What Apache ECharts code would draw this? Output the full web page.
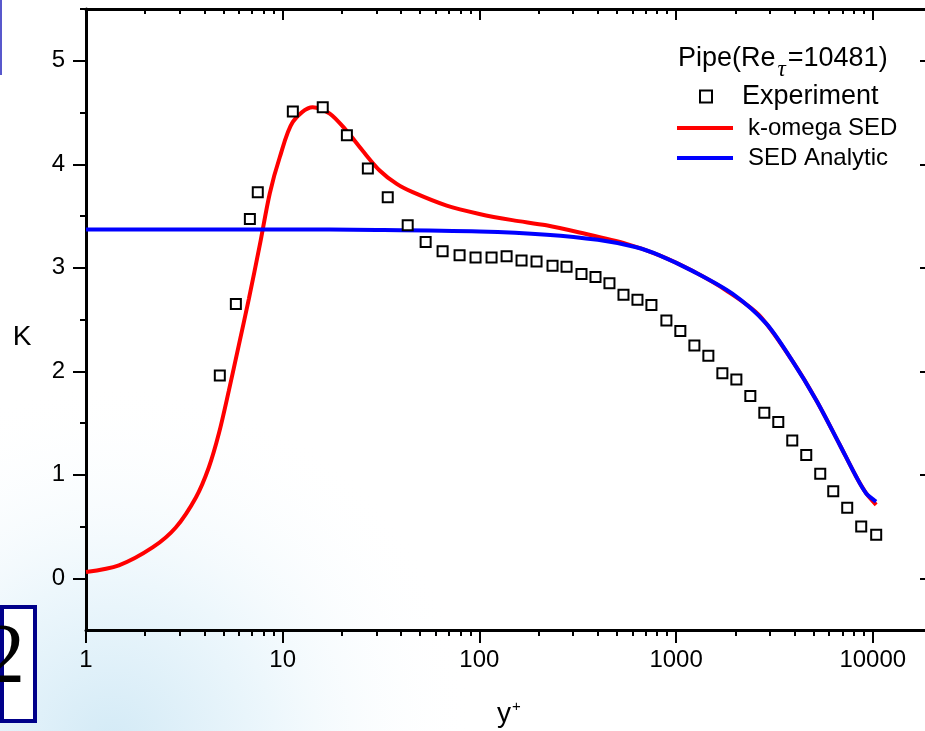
<!DOCTYPE html>
<html>
<head>
<meta charset="utf-8">
<script src="https://cdn.jsdelivr.net/npm/echarts@6/dist/echarts.min.js"></script>
<style>html,body{margin:0;padding:0;background:#fff}#c{width:925px;height:731px}</style>
</head>
<body>
<div id="c"></div>
<script>
// ---- Data ----
const expX = [4.79, 5.78, 6.81, 7.47, 11.26, 15.98, 21.2, 27.1, 34.2, 43.2, 53.3, 65.0, 79.3, 95.6, 115.3, 137.5, 163.8, 195.2, 235.4, 277.4, 330.4, 389.3, 458.4, 540.2, 636.2, 749.2, 892.7, 1051, 1239, 1459, 1719, 2025, 2385, 2809, 3308, 3896, 4589, 5406, 6295, 7413, 8733, 10406];
const expK = [1.96, 2.65, 3.47, 3.73, 4.51, 4.55, 4.28, 3.96, 3.68, 3.41, 3.25, 3.16, 3.12, 3.10, 3.10, 3.11, 3.07, 3.06, 3.02, 3.01, 2.94, 2.91, 2.85, 2.74, 2.69, 2.64, 2.49, 2.39, 2.25, 2.15, 1.98, 1.92, 1.76, 1.60, 1.51, 1.33, 1.19, 1.01, 0.84, 0.68, 0.50, 0.42];

const sedX = [1, 1.47, 2.19, 2.86, 3.62, 4.21, 4.74, 5.32, 5.98, 6.73, 7.65, 8.6, 9.67, 11.26, 14.2, 17.35, 21.2, 25.5, 31.1, 38, 45.8, 68.2, 100, 147, 219, 323, 559, 823, 1210, 1800, 2650, 3900, 5160, 6750, 8240, 9260, 10400];
const sedK = [0.06, 0.125, 0.30, 0.49, 0.78, 1.07, 1.40, 1.81, 2.25, 2.70, 3.22, 3.72, 4.07, 4.41, 4.55, 4.49, 4.32, 4.13, 3.94, 3.81, 3.73, 3.60, 3.52, 3.46, 3.41, 3.34, 3.23, 3.12, 2.97, 2.78, 2.54, 2.10, 1.72, 1.30, 0.98, 0.82, 0.71];

const anaX = [1, 3, 10, 30, 100, 220, 400, 620, 823, 1210, 1932, 2875, 3900, 5160, 6750, 8240, 9260, 10400];
const anaK = [3.37, 3.37, 3.37, 3.365, 3.35, 3.32, 3.27, 3.20, 3.12, 2.97, 2.75, 2.46, 2.10, 1.72, 1.30, 0.98, 0.82, 0.74];

const xTickLabels = [1, 10, 100, 1000, 10000];
const yTickLabels = [0, 1, 2, 3, 4, 5];
const yMinorTicks = [0.5, 1.5, 2.5, 3.5, 4.5, 5.5];

// ---- helpers ----
const zip = (xs, ys) => xs.map((x, i) => [x, ys[i]]);
const xMinorTicks = [];
xTickLabels.forEach(d => { for (let m = 2; m <= 9; m++) xMinorTicks.push(d * m); });

const FONT = "'Liberation Sans', Arial, sans-serif";
const black = '#000';

const chart = echarts.init(document.getElementById('c'), null, {renderer: 'canvas'});

const baseX = {
  type: 'log', logBase: 10, min: 1, max: 20000,
  splitLine: {show: false}, minorTick: {show: false}, minorSplitLine: {show: false}
};
const baseY = {
  type: 'value', min: -0.5, max: 5.5,
  splitLine: {show: false}, minorTick: {show: false}
};
const axisLineStyle = {color: black, width: 3};

const option = {
  animation: false,
  backgroundColor: '#fff',
  grid: {left: 86, top: 9, width: 846, bottom: 101, containLabel: false, outerBoundsMode: 'none'},
  graphic: [
    {
      type: 'rect', z: -100, silent: true,
      shape: {x: 0, y: 0, width: 925, height: 731},
      style: {
        fill: new echarts.graphic.RadialGradient(0.12, 1.02, 0.5, [
          {offset: 0, color: '#d3eaf6'},
          {offset: 0.45, color: '#edf7fc'},
          {offset: 1, color: 'rgba(255,255,255,0)'}
        ])
      }
    },
    {type: 'rect', z: -50, silent: true, shape: {x: 0, y: 0, width: 2, height: 75}, style: {fill: '#5858cc'}},
    {
      type: 'rect', z: 50, silent: true,
      shape: {x: 2, y: 607, width: 33, height: 114},
      style: {fill: '#fff', stroke: '#00008a', lineWidth: 4}
    },
    {
      type: 'text', z: 51, silent: true,
      style: {text: '2', x: -17, y: 660, verticalAlign: 'middle', font: "84px 'Liberation Serif', 'Times New Roman', serif", fill: black}
    },
    {
      type: 'text', z: 10, silent: true,
      style: {text: 'K', x: 22, y: 337, align: 'center', verticalAlign: 'middle', font: "28px 'Liberation Sans', Arial, sans-serif", fill: black}
    }
  ],
  title: {
    left: 678, top: 36, padding: 0,
    text: '{a|Pipe(Re}{s|τ}{a|=10481)}',
    textStyle: {
      fontWeight: 'normal',
      rich: {
        a: {fontSize: 27, fontWeight: 'normal', fontFamily: FONT, color: black},
        s: {fontSize: 23, fontWeight: 'normal', fontFamily: "'Liberation Serif', serif", fontStyle: 'italic', color: black, padding: [22, 2, 0, 2]}
      }
    }
  },
  legend: [
    {
      data: [{name: 'Experiment', icon: 'emptyRect'}],
      left: 699, top: 83, padding: 0, orient: 'vertical',
      itemWidth: 12, itemHeight: 12, selectedMode: false,
      itemStyle: {color: black, borderColor: black, borderWidth: 2},
      textStyle: {fontSize: 27, fontFamily: FONT, color: black, lineHeight: 26, padding: [0, 0, 0, 25]}
    },
    {
      data: [{name: 'k-omega SED', icon: 'rect'}, {name: 'SED Analytic', icon: 'rect'}],
      left: 677, top: 116, padding: 0, orient: 'vertical', itemGap: 6,
      itemWidth: 56, itemHeight: 4, selectedMode: false,
      textStyle: {fontSize: 24, fontFamily: FONT, color: black, lineHeight: 24, padding: [0, 0, 0, 10]}
    }
  ],
  xAxis: [
    Object.assign({}, baseX, {
      position: 'bottom',
      name: '{y|y}{s|+}', nameLocation: 'middle', nameGap: 69,
      nameTextStyle: {rich: {
        y: {fontSize: 28, fontFamily: FONT, color: black},
        s: {fontSize: 15, fontFamily: FONT, color: black, padding: [0, 0, 16, 1]}
      }},
      axisLine: {show: true, onZero: false, lineStyle: axisLineStyle},
      axisTick: {show: true, inside: false, length: 13, lineStyle: {color: black, width: 2}, customValues: xTickLabels},
      axisLabel: {show: true, customValues: xTickLabels, margin: 18, fontSize: 24, fontFamily: FONT, color: black,
        formatter: v => String(Math.round(v))}
    }),
    Object.assign({}, baseX, {
      position: 'bottom',
      axisLine: {show: false, onZero: false},
      axisTick: {show: true, inside: false, length: 6, lineStyle: {color: black, width: 2}, customValues: xMinorTicks},
      axisLabel: {show: false}
    }),
    Object.assign({}, baseX, {
      position: 'top',
      axisLine: {show: true, onZero: false, lineStyle: axisLineStyle},
      axisTick: {show: true, inside: true, length: 11, lineStyle: {color: black, width: 2}, customValues: xTickLabels},
      axisLabel: {show: false}
    }),
    Object.assign({}, baseX, {
      position: 'top',
      axisLine: {show: false, onZero: false},
      axisTick: {show: true, inside: true, length: 5, lineStyle: {color: black, width: 2}, customValues: xMinorTicks},
      axisLabel: {show: false}
    })
  ],
  yAxis: [
    Object.assign({}, baseY, {
      position: 'left',
      axisLine: {show: true, onZero: false, lineStyle: axisLineStyle},
      axisTick: {show: true, inside: false, length: 13, lineStyle: {color: black, width: 2}, customValues: yTickLabels},
      axisLabel: {show: true, customValues: yTickLabels, margin: 21, fontSize: 24, fontFamily: FONT, color: black}
    }),
    Object.assign({}, baseY, {
      position: 'left',
      axisLine: {show: false, onZero: false},
      axisTick: {show: true, inside: false, length: 6, lineStyle: {color: black, width: 2}, customValues: yMinorTicks},
      axisLabel: {show: false}
    }),
    Object.assign({}, baseY, {
      position: 'right',
      axisLine: {show: true, onZero: false, lineStyle: axisLineStyle},
      axisTick: {show: true, inside: true, length: 12, lineStyle: {color: black, width: 2}, customValues: yTickLabels},
      axisLabel: {show: false}
    })
  ],
  series: [
    {
      name: 'k-omega SED', type: 'line', xAxisIndex: 0, yAxisIndex: 0,
      data: zip(sedX, sedK), smooth: 0.3, symbol: 'none', z: 2,
      lineStyle: {color: '#ff0000', width: 4}, itemStyle: {color: '#ff0000'}
    },
    {
      name: 'SED Analytic', type: 'line', xAxisIndex: 0, yAxisIndex: 0,
      data: zip(anaX, anaK), smooth: 0.3, symbol: 'none', z: 3,
      lineStyle: {color: '#0000ff', width: 4}, itemStyle: {color: '#0000ff'}
    },
    {
      name: 'Experiment', type: 'scatter', xAxisIndex: 0, yAxisIndex: 0,
      data: zip(expX, expK), symbol: 'emptyRect', symbolSize: 10, z: 4,
      itemStyle: {color: black, borderColor: black, borderWidth: 2, opacity: 1}
    }
  ]
};
chart.setOption(option);
</script>
</body>
</html>
